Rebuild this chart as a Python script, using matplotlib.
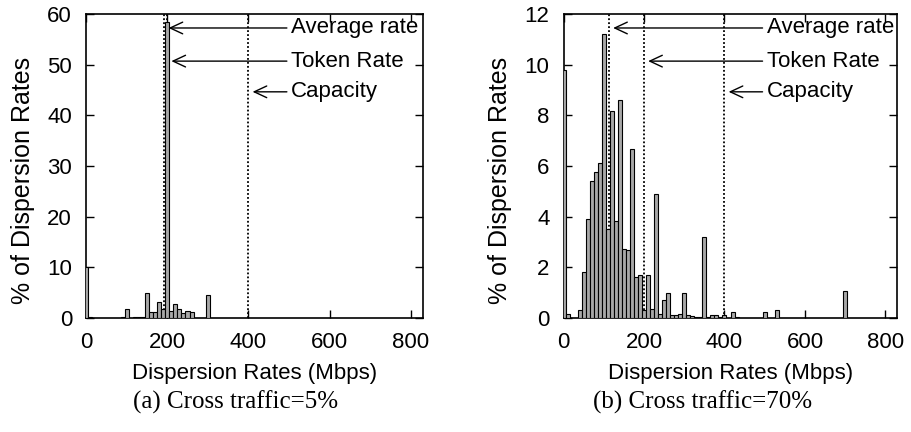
import matplotlib
matplotlib.use("Agg")
import matplotlib.pyplot as plt
import numpy as np

# ---------------- data ----------------
# bin centres (Mbps) and % of dispersion rates
bins_a = [0, 10, 90, 100, 120, 130, 140, 150, 160, 170, 180, 190, 200,
          210, 220, 230, 240, 250, 260, 300]
vals_a = [10.0, 0.15, 0.15, 1.7, 0.15, 0.1, 0.15, 4.9, 1.25, 1.25, 3.1,
          1.7, 58.5, 1.3, 2.8, 1.8, 0.9, 1.4, 1.2, 4.5]

bins_b = [0, 10, 40, 50, 60, 70, 80, 90, 100, 110, 120, 130, 140, 150,
          160, 170, 180, 190, 200, 210, 220, 230, 240, 250, 260, 270, 280,
          290, 300, 310, 320, 330, 340, 350, 360, 370, 380, 390, 400, 420,
          430, 500, 530, 700]
vals_b = [9.8, 0.15, 0.33, 1.83, 3.92, 5.39, 5.78, 6.12, 11.2, 3.53, 8.16,
          3.82, 8.6, 2.72, 2.67, 6.67, 1.6, 1.7, 0.3, 1.7, 0.35, 4.9, 0.15,
          0.7, 1.0, 0.1, 0.1, 0.15, 1.0, 0.1, 0.08, 0.05, 0.05, 3.2, 0.05,
          0.1, 0.1, 0.05, 0.1, 0.22, 0.02, 0.22, 0.33, 1.08]

# reference rates: average, token, capacity (Mbps)
rates_a = [193, 200, 400]
rates_b = [113, 200, 400]
rate_labels = ["Average rate", "Token Rate", "Capacity"]
label_y = [0.954, 0.845, 0.744]   # axes fraction

xticks = [0, 200, 400, 600, 800]
yticks_a = [0, 10, 20, 30, 40, 50, 60]
yticks_b = [0, 2, 4, 6, 8, 10, 12]
xlabel = "Dispersion Rates (Mbps)"
ylabel = "% of Dispersion Rates"
captions = ["(a) Cross traffic=5%", "(b) Cross traffic=70%"]

# ---------------- style ----------------
plt.rcParams['font.family'] = ['Liberation Sans', 'DejaVu Sans']
FS = 16

fig = plt.figure(figsize=(9.12, 4.32), dpi=100)
ax_a = fig.add_axes([86/912, 1-318/432, 337/912, 304/432])
ax_b = fig.add_axes([563.5/912, 1-318/432, 334/912, 304/432])


def draw(ax, bins, vals, rates, yticks, ymax, ylab_x):
    ax.bar(bins, vals, width=10, color='#a8a8a8', edgecolor='black',
           linewidth=0.8, zorder=3)
    for r in rates:
        ax.axvline(r, color='black', linestyle=(0, (1, 1.2)), linewidth=1.3,
                   zorder=2)
    for r, lab, yy in zip(rates, rate_labels, label_y):
        ax.annotate(lab, xy=(r, yy), xycoords=('data', 'axes fraction'),
                    xytext=(505, yy), textcoords=('data', 'axes fraction'),
                    ha='left', va='center', fontsize=FS, zorder=5,
                    arrowprops=dict(arrowstyle='->,head_length=0.6,head_width=0.28',
                                    mutation_scale=15, lw=1.0, color='black',
                                    shrinkA=1, shrinkB=3))
    ax.set_xlim(0, 830)
    ax.set_ylim(0, ymax)
    ax.set_xticks(xticks)
    ax.set_yticks(yticks)
    ax.tick_params(direction='in', length=6, width=1.0, top=True, right=True,
                   labelsize=FS, pad=10)
    for s in ax.spines.values():
        s.set_linewidth(1.2)
    ax.set_xlabel(xlabel, fontsize=FS, labelpad=7)
    ax.set_ylabel(ylabel, fontsize=18, va='center')
    ax.yaxis.set_label_coords(ylab_x, 0.454)


draw(ax_a, bins_a, vals_a, rates_a, yticks_a, 60, (23-86)/337)
draw(ax_b, bins_b, vals_b, rates_b, yticks_b, 12, (500-563.5)/334)

fig.text(236/912, 1-402/432, captions[0], ha='center', va='center',
         fontsize=18, family=['Liberation Serif', 'DejaVu Serif'])
fig.text(703/912, 1-402/432, captions[1], ha='center', va='center',
         fontsize=18, family=['Liberation Serif', 'DejaVu Serif'])

fig.savefig("out.png", dpi=100)
